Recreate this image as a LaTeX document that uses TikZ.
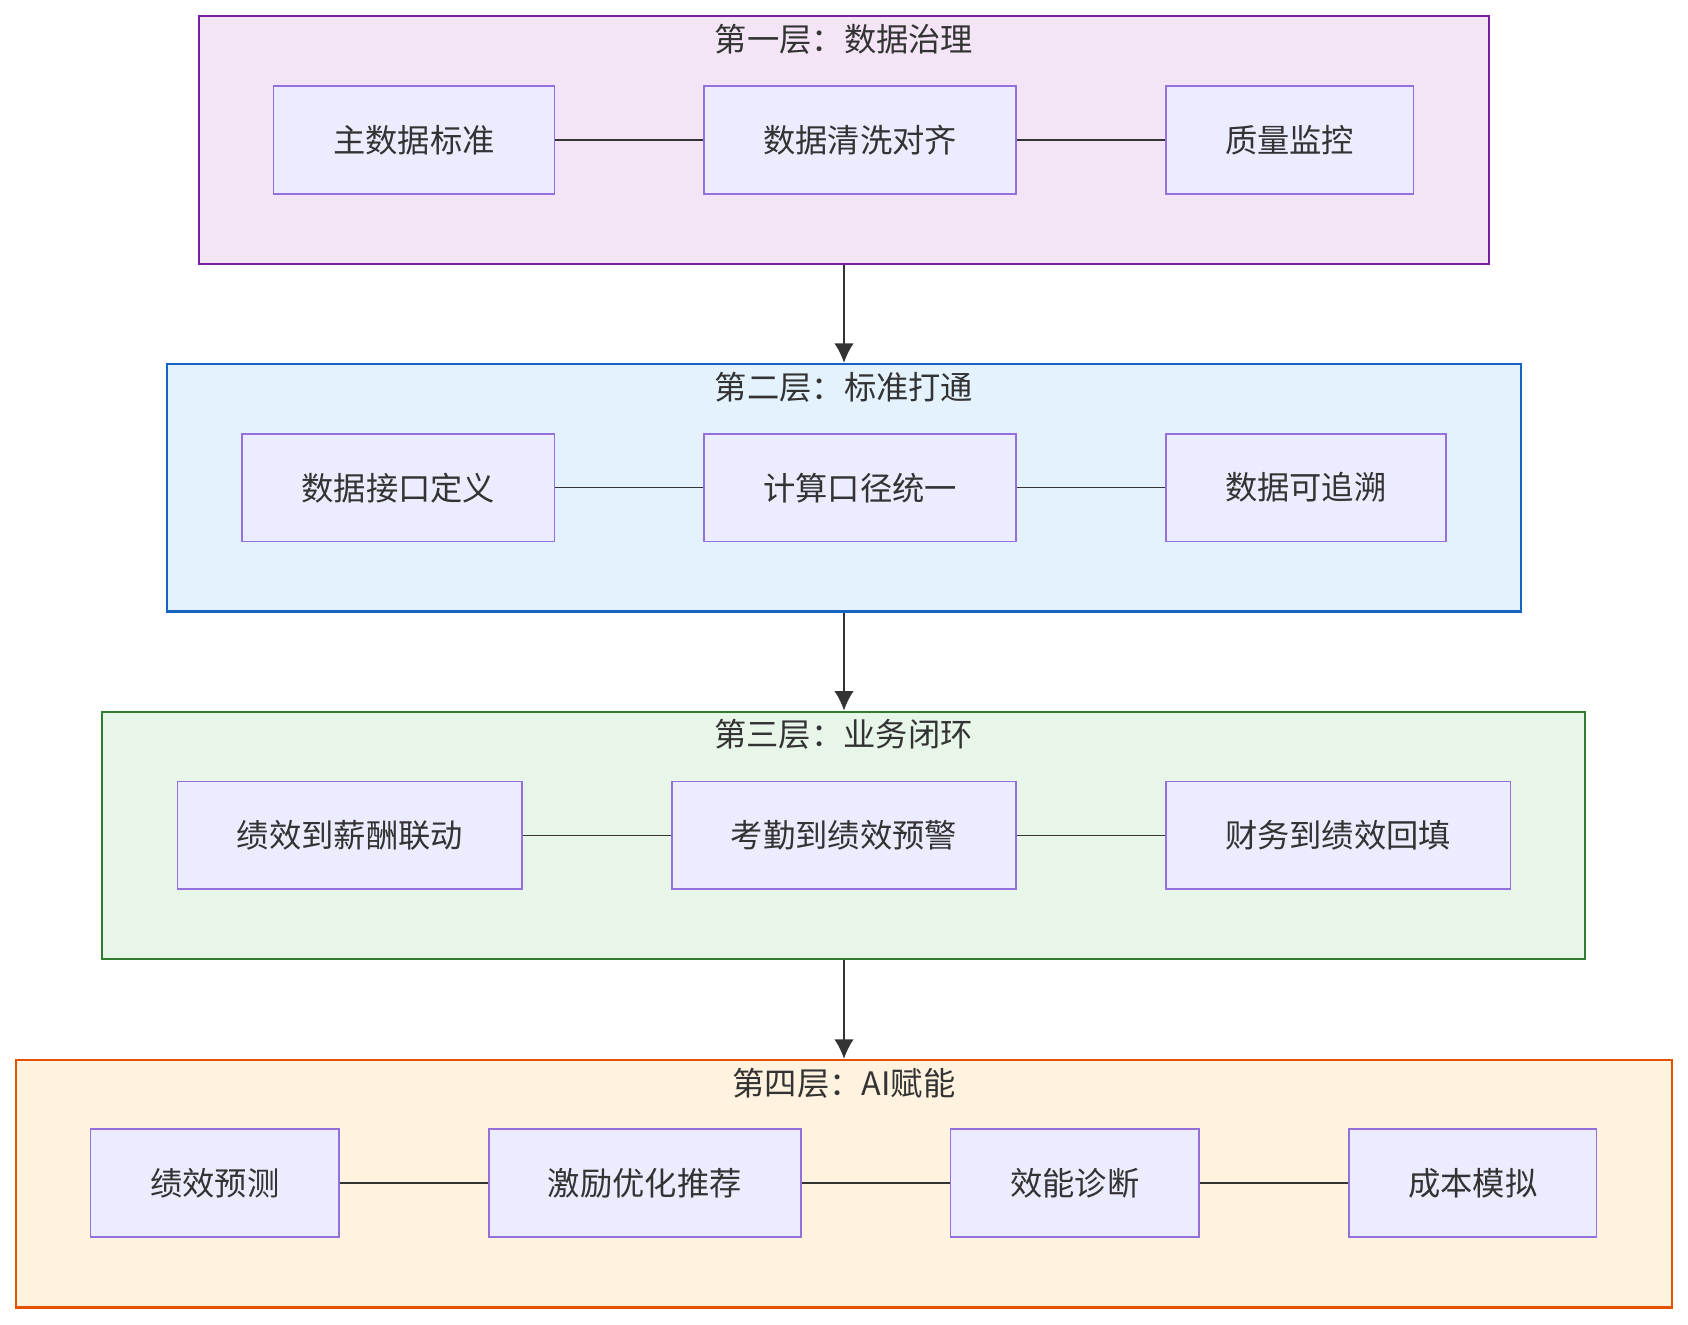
\documentclass[tikz,border=0pt]{standalone}
\usepackage{fontspec}
\setmainfont{Noto Sans CJK SC}
\usetikzlibrary{arrows.meta}

\definecolor{txt}{HTML}{333333}
\definecolor{boxfill}{HTML}{ECECFF}
\definecolor{boxline}{HTML}{9370DB}
\definecolor{fillA}{HTML}{F3E5F5}
\definecolor{lineA}{HTML}{7B1FA2}
\definecolor{fillB}{HTML}{E3F2FD}
\definecolor{lineB}{HTML}{1565C0}
\definecolor{fillC}{HTML}{E8F5E9}
\definecolor{lineC}{HTML}{2E7D32}
\definecolor{fillD}{HTML}{FFF3E0}
\definecolor{lineD}{HTML}{E65100}

\tikzset{
  layer/.style={draw=#1, line width=1pt, minimum height=115pt, inner sep=0pt},
  item/.style={draw=boxline, fill=boxfill, line width=0.75pt, minimum height=50pt,
    inner sep=0pt, text=txt, font=\fontsize{15}{18}\selectfont},
  title/.style={anchor=north, text=txt, inner sep=0pt, font=\fontsize{15}{18}\selectfont},
  link/.style={draw=txt, line width=0.75pt},
  flow/.style={draw=txt, line width=0.75pt, -{Latex[length=9pt,width=9pt]}}
}

\begin{document}
\begin{tikzpicture}[x=0.5pt,y=-0.5pt]
\useasboundingbox (0,0) rectangle (1568,1230);

% layers
\node[layer=lineA, fill=fillA, minimum width=599pt] (L1) at (784,130) {};
\node[layer=lineB, fill=fillB, minimum width=629pt] (L2) at (784,453) {};
\node[layer=lineC, fill=fillC, minimum width=688.5pt] (L3) at (783.5,776) {};
\node[layer=lineD, fill=fillD, minimum width=769pt] (L4) at (784,1099.5) {};

\node[title] (T1) at ([yshift=-4pt]L1.north) {第一层：数据治理};
\node[title] (T2) at ([yshift=-4pt]L2.north) {第二层：标准打通};
\node[title] (T3) at ([yshift=-4pt]L3.north) {第三层：业务闭环};
\node[title] (T4) at ([yshift=-4pt]L4.north) {第四层：AI赋能};

% first layer
\node[item, minimum width=130.5pt] (A1) at (384.5,130) {主数据标准};
\node[item, minimum width=145pt] (A2) at (799,130) {数据清洗对齐};
\node[item, minimum width=115pt] (A3) at (1198,130) {质量监控};

% second layer
\node[item, minimum width=145pt] (B1) at (370,453) {数据接口定义};
\node[item, minimum width=145pt] (B2) at (799,453) {计算口径统一};
\node[item, minimum width=130pt] (B3) at (1213,453) {数据可追溯};

% third layer
\node[item, minimum width=160pt] (C1) at (325,776) {绩效到薪酬联动};
\node[item, minimum width=160pt] (C2) at (784,776) {考勤到绩效预警};
\node[item, minimum width=160pt] (C3) at (1243,776) {财务到绩效回填};

% fourth layer
\node[item, minimum width=115.5pt] (D1) at (199.5,1099) {绩效预测};
\node[item, minimum width=145pt] (D2) at (599,1099) {激励优化推荐};
\node[item, minimum width=115.5pt] (D3) at (998.5,1099) {效能诊断};
\node[item, minimum width=115pt] (D4) at (1368,1099) {成本模拟};

\draw[link] (A1) -- (A2) (A2) -- (A3);
\draw[link] (B1) -- (B2) (B2) -- (B3);
\draw[link] (C1) -- (C2) (C2) -- (C3);
\draw[link] (D1) -- (D2) (D2) -- (D3) (D3) -- (D4);

\draw[flow] (L1.south) -- (L2.north);
\draw[flow] (L2.south) -- (L3.north -| L2.south);
\draw[flow] (L3.south -| L2.south) -- (L4.north);
\end{tikzpicture}
\end{document}
